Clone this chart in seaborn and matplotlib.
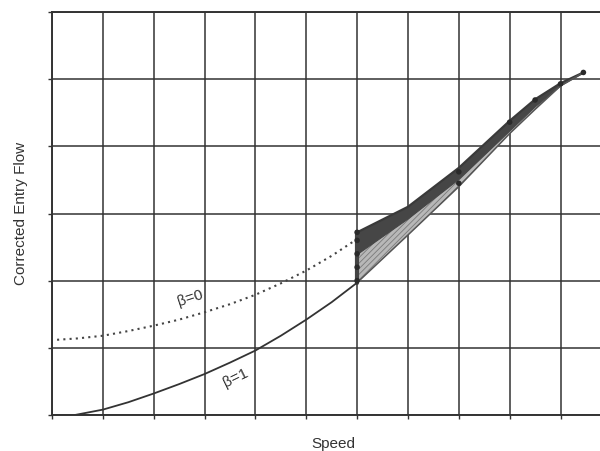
import matplotlib
matplotlib.use("Agg")
import matplotlib.pyplot as plt
import seaborn as sns

# beta = 1 curve (solid)
beta1_x = [0.45, 1.0, 1.5, 2.0, 2.5, 3.0, 3.5, 4.0, 4.5, 5.0, 5.5, 6.0]
beta1_y = [0.0, 0.08, 0.19, 0.32, 0.46, 0.61, 0.78, 0.96, 1.18, 1.42, 1.68, 1.97]
# beta = 0 curve (dotted)
beta0_x = [0.1, 0.5, 1.0, 1.5, 2.0, 2.5, 3.0, 3.5, 4.0, 4.5, 5.0, 5.5, 6.0]
beta0_y = [1.12, 1.14, 1.18, 1.25, 1.33, 1.42, 1.53, 1.65, 1.79, 1.96, 2.15, 2.37, 2.62]
# shaded operating band
band_x = [6.0, 7.0, 8.0, 9.0, 9.5, 10.0, 10.45]
band_upper = [2.72, 3.10, 3.68, 4.38, 4.70, 4.94, 5.10]
band_dark = [2.40, 2.93, 3.52, 4.24, 4.60, 4.91, 5.10]
band_lower = [1.97, 2.68, 3.40, 4.19, 4.55, 4.90, 5.10]
# marked points
pts_x = [6.0, 6.0, 6.0, 6.0, 6.0, 8.0, 8.0, 9.0, 9.5, 10.0, 10.45]
pts_y = [2.00, 2.20, 2.40, 2.60, 2.72, 3.45, 3.62, 4.36, 4.69, 4.93, 5.10]

labels = {"x": "Speed", "y": "Corrected Entry Flow"}

sns.set_style("white")
plt.rcParams['font.family'] = ['Liberation Sans', 'DejaVu Sans']
plt.rcParams['hatch.linewidth'] = 0.6

fig = plt.figure(figsize=(6.0, 4.51), dpi=100)
ax = fig.add_axes([52/600, 36/451, 1 - 52/600 + 0.002, 403/451])

ink = "#333333"

ax.set_xlim(0, 10.80)
ax.set_ylim(0, 6)
ax.set_xticks(range(0, 11))
ax.set_yticks(range(0, 7))
ax.grid(True, color=ink, linewidth=1.1)
ax.set_axisbelow(True)
ax.set_xticklabels([])
ax.set_yticklabels([])
ax.tick_params(axis="both", direction="out", length=3, width=1, color=ink,
               bottom=True, left=True)
for side in ["left", "bottom", "top"]:
    ax.spines[side].set_color(ink)
    ax.spines[side].set_linewidth(1.4)
ax.spines["right"].set_visible(False)

# band: light hatched part and dark upper strip
ax.fill_between(band_x, band_lower, band_upper, facecolor="#b8b8b8",
                edgecolor="#7a7a7a", hatch="//////", linewidth=0, zorder=3)
ax.fill_between(band_x, band_dark, band_upper, color="#464646",
                linewidth=0.8, zorder=4)
sns.lineplot(x=band_x, y=band_upper, ax=ax, color="#3a3a3a", linewidth=1.6,
             zorder=4, sort=False)
sns.lineplot(x=band_x, y=band_lower, ax=ax, color="#555555", linewidth=1.1,
             zorder=4, sort=False)
ax.plot([band_x[0], band_x[0]], [band_lower[0], band_upper[0]], color="#444444",
        linewidth=3, zorder=4)

# curves
sns.lineplot(x=beta1_x, y=beta1_y, ax=ax, color=ink, linewidth=1.3, zorder=5,
             sort=False)
sns.lineplot(x=beta0_x, y=beta0_y, ax=ax, color="#444444", linewidth=1.5,
             zorder=5, sort=False, linestyle=(0, (1, 2.0)))
sns.scatterplot(x=pts_x, y=pts_y, ax=ax, color="#2a2a2a", s=16, zorder=6,
                edgecolor="none")

ax.text(2.72, 1.74, "β=0", rotation=18, ha="center", va="center",
        fontsize=11, color=ink, zorder=7)
ax.text(3.62, 0.55, "β=1", rotation=26, ha="center", va="center",
        fontsize=11, color=ink, zorder=7)

ax.set_xlabel(labels["x"], fontsize=11, color=ink)
ax.set_ylabel(labels["y"], fontsize=11, color=ink)
ax.xaxis.set_label_coords((333 - 52) / 549, -22 / 403)
ax.yaxis.set_label_coords(-(52 - 28) / 549, 0.5)

fig.savefig("out.png", dpi=100)
